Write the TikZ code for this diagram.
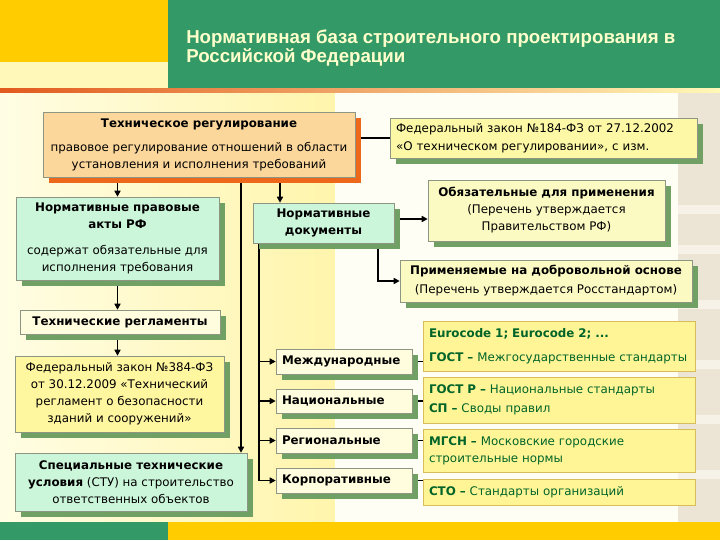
\documentclass[tikz,border=0pt]{standalone}
\usepackage{fontspec}
\setmainfont{DejaVu Sans}
\newfontfamily\titlefont{Liberation Sans}
\usetikzlibrary{shadows,arrows.meta}
\definecolor{hdrgold}{RGB}{255,204,0}
\definecolor{hdrpale}{RGB}{255,248,184}
\definecolor{hdrgreen}{RGB}{51,153,102}
\definecolor{titlecol}{RGB}{255,255,204}
\definecolor{lineorange}{RGB}{226,90,30}
\definecolor{peach}{RGB}{252,215,156}
\definecolor{peachshadow}{RGB}{238,104,28}
\definecolor{mint}{RGB}{204,246,218}
\definecolor{shgreen}{RGB}{112,160,100}
\definecolor{lawyellow}{RGB}{252,248,165}
\definecolor{paleyellow}{RGB}{252,250,195}
\definecolor{cream}{RGB}{255,253,222}
\definecolor{fzyellow}{RGB}{255,246,160}
\definecolor{ryellow}{RGB}{255,245,150}
\definecolor{rborder}{RGB}{215,190,90}
\definecolor{boxborder}{RGB}{140,150,130}
\definecolor{txtgreen}{RGB}{0,100,40}
\definecolor{bgleft}{RGB}{255,253,228}
\definecolor{bgright}{RGB}{255,245,172}
\definecolor{bgbeige}{RGB}{236,228,212}
\definecolor{bgband}{RGB}{246,242,232}
\pgfdeclarelayer{bg}
\pgfdeclarelayer{lines}
\pgfsetlayers{bg,lines,main}
\tikzset{
  px/.style n args={4}{at={({(#1+#3)/2},{(#2+#4)/2})},
    minimum width={(#3-#1)*0.75pt}, minimum height={(#4-#2)*0.75pt}},
  lefttext/.style={align=left, text width={#1*0.75pt-9pt}},
  basebox/.style={draw=boxborder, line width=0.4pt, inner sep=0pt,
    font=\fontsize{8.9}{12.75}\selectfont, align=center},
  gshadow/.style={drop shadow={shadow xshift=4.5pt, shadow yshift=-4.5pt,
    fill=shgreen, opacity=1}},
  oshadow/.style={drop shadow={shadow xshift=4.5pt, shadow yshift=-4.5pt,
    fill=peachshadow, opacity=1}},
  rbox/.style={draw=rborder, fill=ryellow, line width=0.6pt, inner sep=0pt,
    font=\fontsize{8.9}{12.75}\selectfont, text=txtgreen},
  arr/.style={line width=1.1pt, -{Triangle[length=4.5pt,width=4.5pt]}},
  conn/.style={line width=1.1pt},
  thinline/.style={line width=0.8pt}
}
\begin{document}
\begin{tikzpicture}[x=0.75pt,y=-0.75pt]
\useasboundingbox (0,0) rectangle (720,540);
\begin{pgfonlayer}{bg}
\fill[white] (0,0) rectangle (720,540);
\fill[hdrgold] (0,0) rectangle (168,62);
\fill[hdrpale] (0,62) rectangle (168,88);
\fill[hdrgreen] (168,0) rectangle (720,88);
\shade[left color=lineorange, right color=hdrpale] (0,88) rectangle (720,93);
\shade[left color=bgleft, right color=bgright] (0,93) rectangle (335,522);
\fill[white!96!yellow] (335,93) rectangle (678,522);
\fill[bgbeige] (678,93) rectangle (720,522);
\foreach \yy in {205,245,300,360,415,470}
  \fill[bgband] (678,\yy) rectangle (720,\yy+9);
\fill[hdrgreen] (0,522) rectangle (168,540);
\fill[hdrgold] (168,522) rectangle (720,540);
\end{pgfonlayer}

\node[anchor=north west, inner sep=0pt, align=left, text=titlecol,
  font=\titlefont\bfseries\fontsize{14}{13.8}\selectfont] (title) at (186,30)
  {Нормативная база строительного проектирования в\\Российской Федерации};

\node[basebox, fill=peach, oshadow, px={43}{112}{355}{177}] (tr)
  {\textbf{Техническое регулирование}\\[5.25pt]
   правовое регулирование отношений в области\\
   установления и исполнения требований};
\node[basebox, fill=lawyellow, gshadow, px={390}{118}{697}{158}, lefttext=307] (fl)
  {Федеральный закон №184-ФЗ от 27.12.2002\\[0.75pt]
   «О техническом регулировании», с изм.};
\node[basebox, fill=mint, gshadow, px={16}{197}{219}{280}] (npa)
  {\textbf{Нормативные правовые}\\ \textbf{акты РФ}\\[6.75pt]
   содержат обязательные для\\ исполнения требования};
\node[basebox, fill=mint, gshadow, px={253}{203}{394}{243}] (nd)
  {\textbf{Нормативные}\\ \textbf{документы}};
\node[basebox, fill=paleyellow, gshadow, px={428}{180}{665}{241}] (oblig)
  {\textbf{Обязательные для применения}\\ (Перечень утверждается\\ Правительством РФ)};
\node[basebox, fill=paleyellow, gshadow, px={400}{260}{692}{302}] (app)
  {\textbf{Применяемые на добровольной основе}\\[1.5pt]
   (Перечень утверждается Росстандартом)};
\node[basebox, fill=cream, gshadow, px={20}{310}{220}{334}] (treg)
  {\textbf{Технические регламенты}};
\node[basebox, fill=fzyellow, gshadow, px={15}{356}{224}{432}] (fz)
  {Федеральный закон №384-ФЗ\\ от 30.12.2009 «Технический\\
   регламент о безопасности\\ зданий и сооружений»};
\node[basebox, fill=mint, gshadow, px={15}{453}{247}{511}] (stu)
  {\textbf{Специальные технические}\\ \textbf{условия} (СТУ) на строительство\\
   ответственных объектов};

\node[basebox, fill=cream, gshadow, px={276}{349}{412}{374}, lefttext=136] (intl)
  {\textbf{Международные}};
\node[basebox, fill=cream, gshadow, px={276}{389}{412}{413}, lefttext=136] (nat)
  {\textbf{Национальные}};
\node[basebox, fill=cream, gshadow, px={276}{428}{412}{453}, lefttext=136] (reg)
  {\textbf{Региональные}};
\node[basebox, fill=cream, gshadow, px={276}{468}{412}{493}, lefttext=136] (korp)
  {\textbf{Корпоративные}};

\node[rbox, px={423}{321}{695}{371}, lefttext=272] (r1)
  {\textbf{Eurocode 1; Eurocode 2; ...}\\[5.25pt]
   \textbf{ГОСТ –} Межгосударственные стандарты};
\node[rbox, px={423}{377}{695}{423}, lefttext=272] (r2)
  {\textbf{ГОСТ Р –} Национальные стандарты\\[1.5pt]
   \textbf{СП –} Своды правил};
\node[rbox, px={423}{429}{695}{472}, lefttext=272] (r3)
  {\textbf{МГСН –} Московские городские\\ строительные нормы};
\node[rbox, px={423}{479}{695}{505}, lefttext=272] (r4)
  {\textbf{СТО –} Стандарты организаций};

\coordinate (xa) at (280,0);
\coordinate (xb) at (241,0);
\coordinate (xc) at (259,0);
\coordinate (xd) at (378,0);
\coordinate (ya) at (0,219);

\begin{pgfonlayer}{lines}
\draw[thinline] (tr.east |- fl.west) -- (fl.west);
\draw[arr] (tr.south -| npa.north) -- (npa.north);
\draw[arr] (tr.south -| xa) -- (nd.north -| xa);
\draw[arr] (tr.south -| xb) -- (stu.north -| xb);
\draw[arr] (nd.east |- ya) -- (oblig.west |- ya);
\draw[arr] (nd.south -| xd) |- (app.west);
\draw[arr] (nd.south -| xc) |- (korp.west);
\draw[arr] (xc |- intl.west) -- (intl.west);
\draw[arr] (xc |- nat.west) -- (nat.west);
\draw[arr] (xc |- reg.west) -- (reg.west);
\draw[arr] (npa.south) -- (npa.south |- treg.north);
\draw[arr] (npa.south |- treg.south) -- (npa.south |- fz.north);
\draw[thinline] (intl.east) -- (intl.east -| r1.west);
\draw[thinline] (nat.east) -- (nat.east -| r2.west);
\draw[thinline] (reg.east) -- (reg.east -| r3.west);
\draw[thinline] (korp.east) -- (korp.east -| r4.west);
\end{pgfonlayer}
\end{tikzpicture}
\end{document}
